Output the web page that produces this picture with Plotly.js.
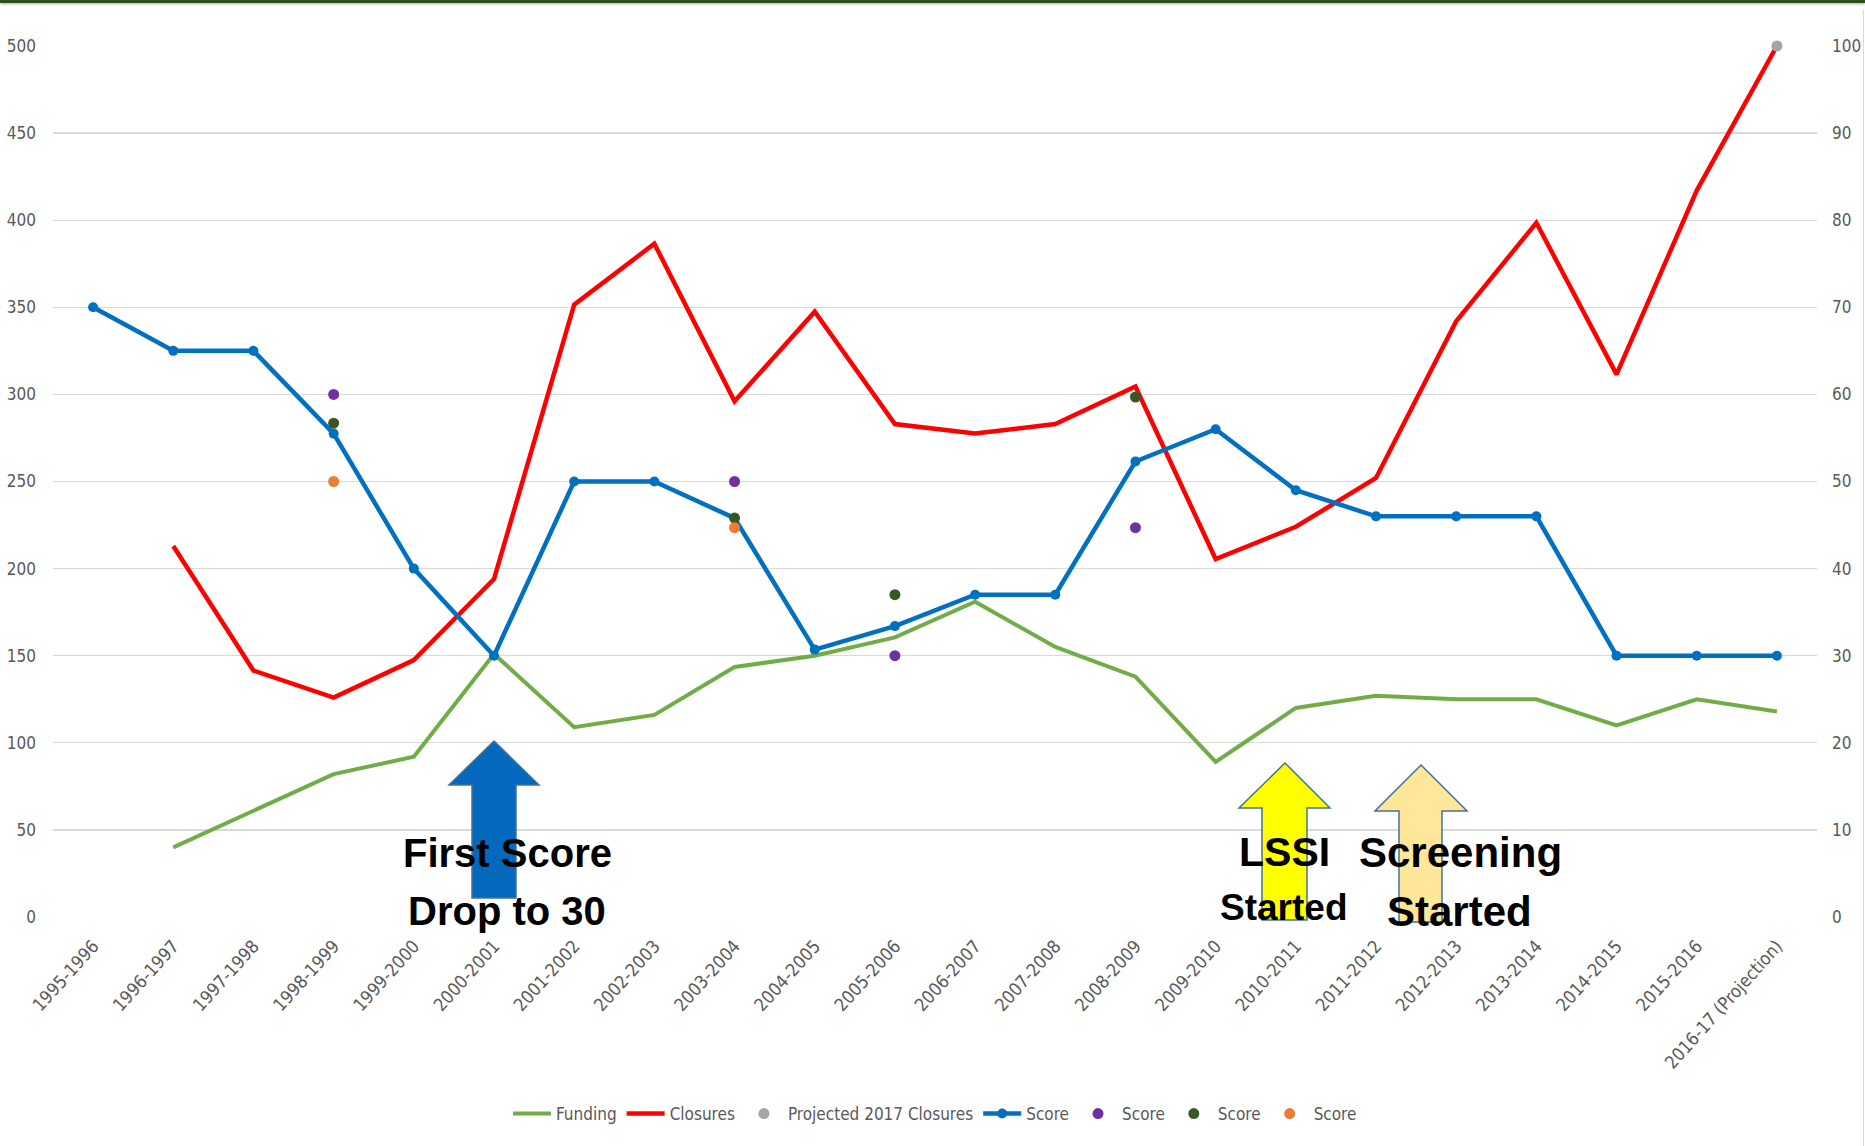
<!DOCTYPE html>
<html>
<head>
<meta charset="utf-8">
<script src="https://cdn.plot.ly/plotly-3.0.1.min.js"></script>
<style>
  html, body { margin: 0; padding: 0; background: #ffffff; }
  #wrap { position: relative; width: 1865px; height: 1146px; overflow: hidden; }
  #chart { position: absolute; left: 0; top: 0; width: 1865px; height: 1146px; }
  #topbar { position: absolute; left: 0; top: 0; width: 1865px; height: 3px; background: #2f4f1f; box-shadow: 0 1px 3px rgba(0,0,0,0.35); z-index: 5; }
  #rightbar { position: absolute; right: 1px; top: 10px; width: 1px; height: 1136px; background: #d9d9d9; z-index: 5; }
</style>
</head>
<body>
<div id="wrap">
  <div id="chart"></div>
  <div id="topbar"></div>
  <div id="rightbar"></div>
</div>
<script>
// ---------------- DATA ----------------
const categories = [
  '1995-1996', '1996-1997', '1997-1998', '1998-1999', '1999-2000', '2000-2001',
  '2001-2002', '2002-2003', '2003-2004', '2004-2005', '2005-2006', '2006-2007',
  '2007-2008', '2008-2009', '2009-2010', '2010-2011', '2011-2012', '2012-2013',
  '2013-2014', '2014-2015', '2015-2016', '2016-17 (Projection)'
];

const funding = [null, 40, 61, 82, 92, 151, 109, 116, 143.5, 150, 160.5, 181,
  155, 138, 89, 120, 127, 125, 125, 110, 125, 118];

const closures = [null, 213, 141.5, 126, 147.5, 194, 351.5, 386.5, 296, 347.5, 283, 277.5,
  283, 304.5, 205.5, 224, 252, 342, 398.5, 311.5, 417, 500];

const projected2017 = [null, null, null, null, null, null, null, null, null, null, null, null,
  null, null, null, null, null, null, null, null, null, 500];

const scoreMain = [70, 65, 65, 55.5, 40, 30, 50, 50, 45.8, 30.7, 33.4, 37,
  37, 52.3, 56, 49, 46, 46, 46, 30, 30, 30];

const scorePurple = [null, null, null, 60, null, null, null, null, 50, null, 30, null,
  null, 44.7, null, null, null, null, null, null, null, null];

const scoreDarkGreen = [null, null, null, 56.7, null, null, null, null, 45.8, null, 37, null,
  null, 59.7, null, null, null, null, null, null, null, null];

const scoreOrange = [null, null, null, 50, null, null, null, null, 44.7, null, null, null,
  null, null, null, null, null, null, null, null, null, null];

const leftTicks = [0, 50, 100, 150, 200, 250, 300, 350, 400, 450, 500];
const rightTicks = [0, 10, 20, 30, 40, 50, 60, 70, 80, 90, 100];

// ---------------- STYLE ----------------
const W = 1865, H = 1146;
const M = { l: 53, r: 48, t: 46, b: 229 };
const PW = W - M.l - M.r, PH = H - M.t - M.b;
const px = x => (x - M.l) / PW;          // pixel -> paper x
const py = y => (H - M.b - y) / PH;      // pixel -> paper y

const tickFont = { family: 'Liberation Sans Narrow, Arial Narrow, DejaVu Sans Condensed, Liberation Sans, sans-serif', size: 17, color: '#595959' };
const xFont = { family: 'Liberation Sans Narrow, Arial Narrow, DejaVu Sans Condensed, Liberation Sans, sans-serif', size: 18, color: '#595959' };
const labelFont = { family: 'Liberation Sans Narrow, Arial Narrow, DejaVu Sans Condensed, Liberation Sans, sans-serif', size: 17, color: '#595959' };
const annFont = (s) => ({ family: 'Liberation Sans, Arial, sans-serif', size: s, color: '#000000', weight: 700 });

function arrowPath(tipX, tipY, headY, headL, headR, shaftL, shaftR, bottom) {
  const pts = [[tipX, tipY], [headR, headY], [shaftR, headY], [shaftR, bottom],
               [shaftL, bottom], [shaftL, headY], [headL, headY]];
  return 'M' + pts.map(p => px(p[0]) + ',' + py(p[1])).join(' L') + ' Z';
}

const traces = [
  { x: categories, y: funding, name: 'Funding', type: 'scatter', mode: 'lines',
    line: { color: '#70AD47', width: 4 }, yaxis: 'y' },
  { x: categories, y: closures, name: 'Closures', type: 'scatter', mode: 'lines',
    line: { color: '#FF0000', width: 4.5 }, yaxis: 'y' },
  { x: categories, y: projected2017, name: 'Projected 2017 Closures', type: 'scatter', mode: 'markers',
    marker: { color: '#A5A5A5', size: 11 }, yaxis: 'y', cliponaxis: false },
  { x: categories, y: scoreMain, name: 'Score', type: 'scatter', mode: 'lines+markers',
    line: { color: '#0070C0', width: 4.5 }, marker: { color: '#0070C0', size: 10 }, yaxis: 'y2' },
  { x: categories, y: scorePurple, name: 'Score', type: 'scatter', mode: 'markers',
    marker: { color: '#7030A0', size: 11 }, yaxis: 'y2' },
  { x: categories, y: scoreDarkGreen, name: 'Score', type: 'scatter', mode: 'markers',
    marker: { color: '#385723', size: 11 }, yaxis: 'y2' },
  { x: categories, y: scoreOrange, name: 'Score', type: 'scatter', mode: 'markers',
    marker: { color: '#ED7D31', size: 11 }, yaxis: 'y2' }
];

const arrowLine = { color: '#41719C', width: 1.5 };
const shapes = [
  { type: 'path', xref: 'paper', yref: 'paper', layer: 'above',
    path: arrowPath(494, 741, 785, 449, 539, 472, 516, 898),
    fillcolor: '#0468BC', line: arrowLine },
  { type: 'path', xref: 'paper', yref: 'paper', layer: 'above',
    path: arrowPath(1285, 763, 808, 1239, 1330, 1262, 1307, 920),
    fillcolor: '#FFFF00', line: arrowLine },
  { type: 'path', xref: 'paper', yref: 'paper', layer: 'above',
    path: arrowPath(1421, 765, 811, 1375, 1467, 1399, 1442, 922),
    fillcolor: '#FFE699', line: arrowLine }
];

function txt(text, x, y, size) {
  return { text: text, xref: 'paper', yref: 'paper', x: px(x), y: py(y),
           xanchor: 'center', yanchor: 'middle', showarrow: false, font: annFont(size) };
}
const annotations = [
  txt('First Score', 507, 853, 40),
  txt('Drop to 30', 507, 911, 40),
  txt('LSSI', 1284, 852, 41),
  txt('Started', 1283, 907, 37),
  txt('Screening', 1460, 852, 42),
  txt('Started', 1459, 911, 42)
];

const layout = {
  width: W, height: H,
  margin: M,
  paper_bgcolor: '#ffffff', plot_bgcolor: '#ffffff',
  showlegend: true,
  legend: { orientation: 'h', x: 0.5, xanchor: 'center', y: py(1114), yanchor: 'middle',
            font: labelFont, bgcolor: 'rgba(0,0,0,0)', itemwidth: 38 },
  xaxis: { type: 'category', range: [-0.5, categories.length - 0.5],
           showgrid: false, zeroline: false, showline: false, ticks: '',
           tickangle: -48, tickfont: xFont, ticklabelstandoff: 14, fixedrange: true },
  yaxis: { range: [0, 500], tickvals: leftTicks, ticktext: leftTicks.map(String),
           showgrid: true, gridcolor: '#D9D9D9', gridwidth: 1.3, zeroline: false, showline: false,
           ticks: '', tickfont: tickFont, ticklabelstandoff: 16 },
  yaxis2: { range: [0, 100], tickvals: rightTicks, ticktext: rightTicks.map(String),
            overlaying: 'y', side: 'right', showgrid: false, zeroline: false, showline: false,
            ticks: '', tickfont: tickFont, ticklabelstandoff: 14 },
  shapes: shapes,
  annotations: annotations
};

Plotly.newPlot('chart', traces, layout, { displayModeBar: false, staticPlot: true });
</script>
</body>
</html>
